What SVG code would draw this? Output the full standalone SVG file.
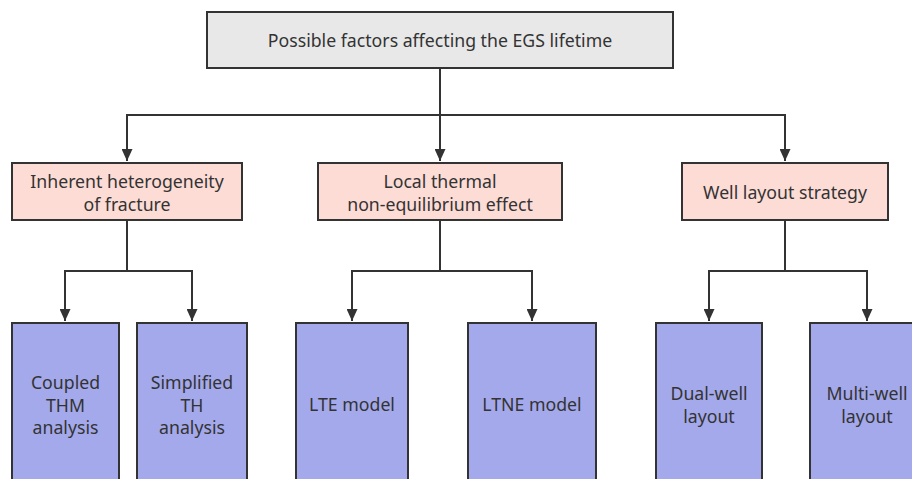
<svg xmlns="http://www.w3.org/2000/svg" width="912" height="479" viewBox="0 0 912 479">
<defs>
<marker id="ah" viewBox="0 0 12 11" refX="12" refY="5.5" markerWidth="6" markerHeight="5.5" orient="auto" markerUnits="strokeWidth">
<path d="M0,0 L12,5.5 L0,11 Z" fill="#333"/>
</marker>
<style>
.n rect{stroke:#333;stroke-width:2}
.top rect{fill:#e8e8e8}
.mid rect{fill:#fddcd6}
.bot rect{fill:#a4a9ec}
text{font-family:"Noto Sans","Open Sans",sans-serif;font-size:17.7px;fill:#333;text-anchor:middle;dominant-baseline:central}
.c path{fill:none;stroke:#333;stroke-width:2}
</style>
</defs>
<rect width="912" height="479" fill="#fff"/>
<g class="c" id="connectors">
<path d="M440,68 V115 H127 V161" marker-end="url(#ah)"/>
<path d="M440,115 V161" marker-end="url(#ah)"/>
<path d="M440,115 H785 V161" marker-end="url(#ah)"/>
<path d="M127,220 V271 H65 V321" marker-end="url(#ah)"/>
<path d="M127,271 H192 V321" marker-end="url(#ah)"/>
<path d="M440,220 V271 H352 V321" marker-end="url(#ah)"/>
<path d="M440,271 H532 V321" marker-end="url(#ah)"/>
<path d="M785,220 V271 H709 V321" marker-end="url(#ah)"/>
<path d="M785,271 H867 V321" marker-end="url(#ah)"/>
</g>
<g id="root" class="n top"><rect x="207" y="12" width="466" height="56"/><text x="440" y="40">Possible factors affecting the EGS lifetime</text></g>
<g id="fracture" class="n mid"><rect x="12" y="163" width="230" height="57"/><text x="127" y="180.5">Inherent heterogeneity</text><text x="127" y="203.5">of fracture</text></g>
<g id="ltne" class="n mid"><rect x="318" y="163" width="244" height="57"/><text x="440" y="180.5">Local thermal</text><text x="440" y="203.5">non-equilibrium effect</text></g>
<g id="well" class="n mid"><rect x="682" y="163" width="206" height="57"/><text x="785" y="192">Well layout strategy</text></g>
<g id="thm" class="n bot"><rect x="12" y="323" width="107" height="170"/><text x="65.5" y="382">Coupled</text><text x="65.5" y="404.5">THM</text><text x="65.5" y="427">analysis</text></g>
<g id="th" class="n bot"><rect x="137" y="323" width="110" height="170"/><text x="192" y="382">Simplified</text><text x="192" y="404.5">TH</text><text x="192" y="427">analysis</text></g>
<g id="lte" class="n bot"><rect x="296" y="323" width="112" height="170"/><text x="352" y="404">LTE model</text></g>
<g id="ltnem" class="n bot"><rect x="468" y="323" width="128" height="170"/><text x="532" y="404">LTNE model</text></g>
<g id="dual" class="n bot"><rect x="656" y="323" width="106" height="170"/><text x="709" y="393">Dual-well</text><text x="709" y="415.5">layout</text></g>
<g id="multi" class="n bot"><rect x="810" y="323" width="114" height="170"/><text x="867" y="393">Multi-well</text><text x="867" y="415.5">layout</text></g>
</svg>
